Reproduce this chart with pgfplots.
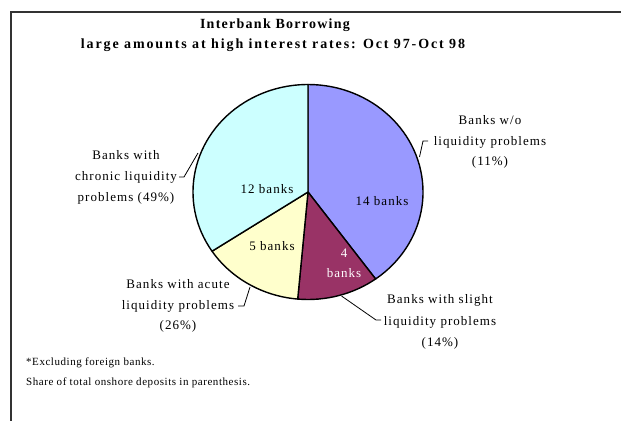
\documentclass[border=0pt]{standalone}
\usepackage{fontspec}
\setmainfont{Liberation Serif}[LetterSpace=8]
\newfontfamily\titlefont{Liberation Serif}[LetterSpace=9]
\newfontfamily\subtitlefont{Liberation Serif}[LetterSpace=13.5]
\newfontfamily\notefont{Liberation Serif}[LetterSpace=5]
\usepackage{pgfplots}
\pgfplotsset{compat=1.18}
\definecolor{sA}{HTML}{9999FF}
\definecolor{sB}{HTML}{993366}
\definecolor{sC}{HTML}{FFFFCC}
\definecolor{sD}{HTML}{CCFFFF}
\begin{document}
\begin{tikzpicture}
\begin{axis}[width=621bp,height=421bp,scale only axis,hide axis,
  xmin=0,xmax=621,ymin=0,ymax=421,y dir=reverse,clip=false]
% cumulative bank counts: start/end/colour (14, 4, 5, 12 banks; total 35)
\foreach \a/\b/\c in {0/14/sA,14/18/sB,18/23/sC,23/35/sD}{
  \pgfmathsetmacro\s{90-360*\a/35}
  \pgfmathsetmacro\e{90-360*\b/35}
  \edef\temp{\noexpand\filldraw[fill=\c,draw=black,line width=1.4bp,line join=round]
    (axis cs:308,192) -- ++(\s:115bp and 107.5bp)
    arc[start angle=\s,end angle=\e,x radius=115bp,y radius=107.5bp] -- cycle;}
  \temp
}
% slice labels
\node[font=\fontsize{13bp}{15bp}\selectfont] at (axis cs:382,201) {14 banks};
\node[font=\fontsize{13bp}{15bp}\selectfont] at (axis cs:267,189) {12 banks};
\node[font=\fontsize{13bp}{15bp}\selectfont] at (axis cs:272,246) {5 banks};
\node[font=\fontsize{13bp}{20bp}\selectfont,text=white,align=center] at (axis cs:344,263) {4\\banks};
% outside labels
\node[font=\fontsize{13bp}{20.5bp}\selectfont,align=center] at (axis cs:490,142) {Banks w/o\\liquidity problems\\(11\%)};
\node[font=\fontsize{13bp}{21.5bp}\selectfont,align=center] at (axis cs:440,322) {Banks with slight\\liquidity problems\\(14\%)};
\node[font=\fontsize{13bp}{20.5bp}\selectfont,align=center] at (axis cs:178,306) {Banks with acute\\liquidity problems\\(26\%)};
\node[font=\fontsize{13bp}{21bp}\selectfont,align=center] at (axis cs:126,177) {Banks with\\chronic liquidity\\problems (49\%)};
% leader lines
\draw[line width=0.8bp] (axis cs:419.5,157) -- (axis cs:423,141) -- (axis cs:428,141);
\draw[line width=0.8bp] (axis cs:341.5,296) -- (axis cs:376,320) -- (axis cs:381,320);
\draw[line width=0.8bp] (axis cs:250,287) -- (axis cs:244,306) -- (axis cs:238,306);
\draw[line width=0.8bp] (axis cs:198,153) -- (axis cs:184,177) -- (axis cs:179,177);
% titles
\node[font=\titlefont\bfseries\fontsize{14bp}{16bp}\selectfont] at (axis cs:275,25) {Interbank Borrowing};
\node[font=\subtitlefont\bfseries\fontsize{14bp}{16bp}\selectfont] at (axis cs:273,45) {large amounts at high interest rates: Oct 97-Oct 98};
% footnotes
\node[anchor=west,inner sep=0pt,font=\notefont\fontsize{11bp}{13bp}\selectfont] at (axis cs:26,363) {*Excluding foreign banks.};
\node[anchor=west,inner sep=0pt,font=\notefont\fontsize{11bp}{13bp}\selectfont] at (axis cs:26,383) {Share of total onshore deposits in parenthesis.};
% frame
\draw[line width=1.5bp,black!80] (axis cs:11,421) -- (axis cs:11,12) -- (axis cs:621,12);
\end{axis}
\pgfresetboundingbox
\path (0,0) rectangle (621bp,421bp);
\end{tikzpicture}
\end{document}
